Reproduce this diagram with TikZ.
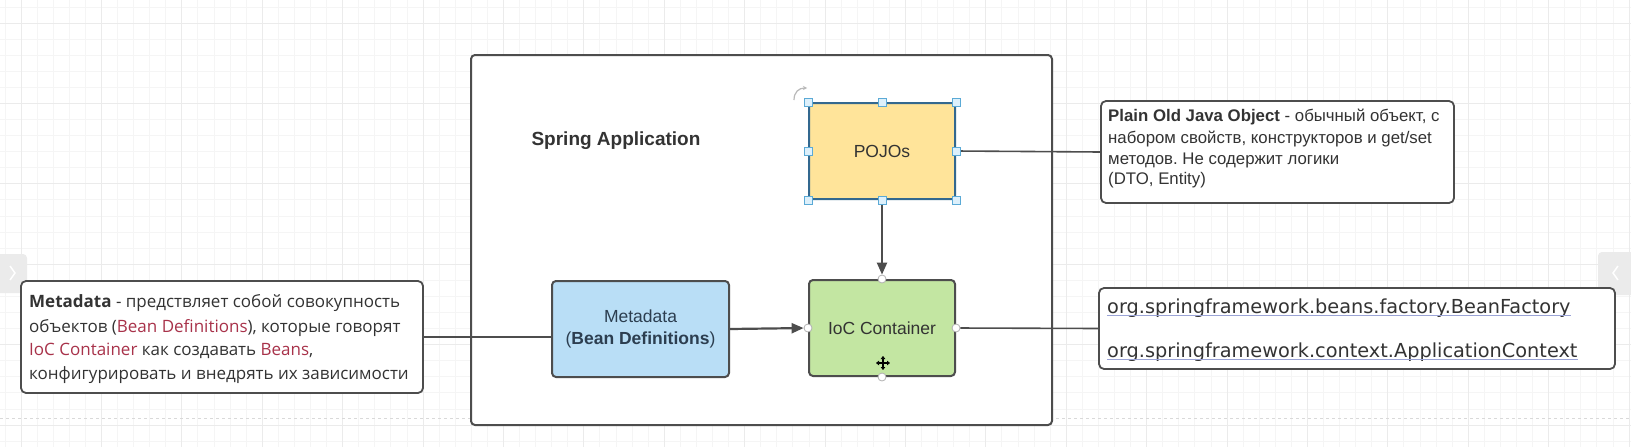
\documentclass[tikz,border=0pt]{standalone}
\usepackage{fontspec}
\setmainfont{Liberation Sans}
\newfontfamily\osans{Open Sans}
\newfontfamily\dvsans{DejaVu Sans}
\usetikzlibrary{arrows.meta}
\definecolor{ink}{HTML}{333333}
\definecolor{edge}{HTML}{4D4D4D}
\definecolor{pojofill}{HTML}{FFE49A}
\definecolor{iocfill}{HTML}{C3E6A2}
\definecolor{metafill}{HTML}{B9DEF6}
\definecolor{selblue}{HTML}{33688F}
\definecolor{handlefill}{HTML}{DDF0FB}
\definecolor{handledraw}{HTML}{5BAAD6}
\definecolor{accent}{HTML}{A8324A}
\definecolor{linkline}{HTML}{9AA3D6}
\definecolor{slate}{HTML}{2C3E50}
\definecolor{gridminor}{HTML}{F5F5F5}
\definecolor{gridmajor}{HTML}{EBEBEB}
\definecolor{tabgrey}{HTML}{EBEBEB}
\begin{document}
\frenchspacing
\begin{tikzpicture}[x=1pt,y=-1pt,
  frame/.style={draw=edge, line width=2pt, fill=white, rounded corners=4pt, minimum width=581pt, minimum height=370pt, inner sep=0pt},
  box/.style={draw=edge, line width=2pt, rounded corners=4pt, inner sep=0pt, font=\fontsize{17.5}{22}\selectfont, text=ink, align=center},
  note/.style={draw=edge, line width=1.8pt, fill=white, rounded corners=5pt, inner sep=0pt},
  txtA/.style={anchor=base west, inner sep=0pt, font=\osans\fontsize{17}{24}\selectfont, text=ink},
  txtB/.style={anchor=base west, inner sep=0pt, font=\fontsize{16.8}{21}\selectfont, text=ink},
  txtC/.style={anchor=base west, inner sep=0pt, font=\dvsans\fontsize{19.3}{24}\selectfont, text=ink},
  flow/.style={draw=edge, line width=2.2pt, -{Triangle[length=12pt,width=10pt]}},
  tie/.style={draw=edge, line width=1.6pt},
  handle/.style={draw=handledraw, fill=handlefill, line width=1pt, minimum size=8pt, inner sep=0pt},
  port/.style={circle, draw=gray!60, fill=white, line width=0.8pt, minimum size=8pt, inner sep=0pt}
]
\useasboundingbox (0,0) rectangle (1631,447);
\fill[white] (0,0) rectangle (1631,447);
% grid
\foreach \i in {0,...,101} { \draw[gridminor, line width=0.8pt] ({4.92+16.08*\i},0) -- ++(0,447); }
\foreach \i in {0,...,27} { \draw[gridminor, line width=0.8pt] (0,{6.92+16.08*\i}) -- ++(1631,0); }
\foreach \i in {0,...,20} { \draw[gridmajor, line width=1pt] ({21+80.4*\i},0) -- ++(0,447); }
\foreach \i in {0,...,5} { \draw[gridmajor, line width=1pt] (0,{23+80.4*\i}) -- ++(1631,0); }
\draw[gray!30, dashed, line width=1pt] (0,418) -- (1631,418);
% side tabs
\fill[tabgrey, rounded corners=4pt] (-6,254) rectangle (27,293);
\draw[white, line width=1.5pt] (10,266) -- (15,273) -- (10,280);
\fill[tabgrey, rounded corners=4pt] (1598,252) rectangle (1640,295);
\draw[white, line width=1.5pt] (1618,266) -- (1613,273) -- (1618,280);
% frame
\node[frame] (app) at (761.5,240) {};
\node[font=\bfseries\fontsize{19}{22}\selectfont, text=ink, inner sep=0pt] (title) at (616,141) {Spring Application};
% main nodes
\node[box, fill=pojofill, draw=selblue, rounded corners=2pt, minimum width=146pt, minimum height=96pt] (pojo) at (882,151) {POJOs};
\node[box, fill=iocfill, minimum width=146pt, minimum height=96pt] (ioc) at (882,328) {IoC Container};
\node[box, fill=metafill, text=slate, minimum width=177pt, minimum height=96pt] (meta) at (640.5,329) {Metadata\\(\textbf{Bean Definitions})};
% annotation boxes
\node[note, minimum width=402pt, minimum height=112pt] (lt) at (222,337) {};
\node[note, minimum width=353pt, minimum height=102pt] (rt) at (1277.5,152) {};
\node[note, minimum width=516pt, minimum height=81pt] (rb) at (1357,328.5) {};
% texts
\node[txtA] (lt1) at (29,307) {\textbf{Metadata} - предствляет собой совокупность};
\node[txtA] (lt2) at (29,332) {объектов (\textcolor{accent}{Bean Definitions}), которые говорят};
\node[txtA] (lt3) at (29,355) {\textcolor{accent}{IoC Container} как создавать \textcolor{accent}{Beans},};
\node[txtA] (lt4) at (29,379) {конфигурировать и внедрять их зависимости};
\node[txtB] (rt1) at (1108,121) {\textbf{Plain Old Java Object} - обычный объект, с};
\node[txtB] (rt2) at (1108,143) {набором свойств, конструкторов и get/set};
\node[txtB] (rt3) at (1108,164) {методов. Не содержит логики};
\node[txtB] (rt4) at (1108,184) {(DTO, Entity)};
\node[txtC] (rb1) at (1107,313) {org.springframework.beans.factory.BeanFactory};
\node[txtC] (rb2) at (1107,357) {org.springframework.context.ApplicationContext};
\draw[linkline, line width=1.2pt] ([yshift=-2.5pt]rb1.base west) -- ([yshift=-2.5pt]rb1.base east);
\draw[linkline, line width=1.2pt] ([yshift=-2.5pt]rb2.base west) -- ([yshift=-2.5pt]rb2.base east);
% ports on IoC
\foreach \a [count=\k] in {north, west, east, south} { \node[port] (p\k) at (ioc.\a) {}; }
% connectors
\draw[flow] (pojo.south) -- (p1);
\draw[flow] (meta.east) -- (p2);
\draw[tie] (pojo.east) -- (rt.west);
\draw[tie] (p3) -- (rb.west);
\draw[tie] (lt.east) -- (lt.east -| meta.west);
% selection handles on POJOs
\foreach \a [count=\k] in {north west, north, north east, west, east, south west, south, south east} { \node[handle] (h\k) at (pojo.\a) {}; }
% rotate icon
\draw[gray!55, line width=1.2pt, -{Stealth[length=4pt,width=4pt]}] (794,100) .. controls (794,92) and (799,88) .. (807,88);
% move cursor icon
\draw[black, line width=1.3pt, {Triangle[length=3pt,width=4.5pt]}-{Triangle[length=3pt,width=4.5pt]}] (876,363) -- (890,363);
\draw[black, line width=1.3pt, {Triangle[length=3pt,width=4.5pt]}-{Triangle[length=3pt,width=4.5pt]}] (883,356) -- (883,370);
\end{tikzpicture}
\end{document}
